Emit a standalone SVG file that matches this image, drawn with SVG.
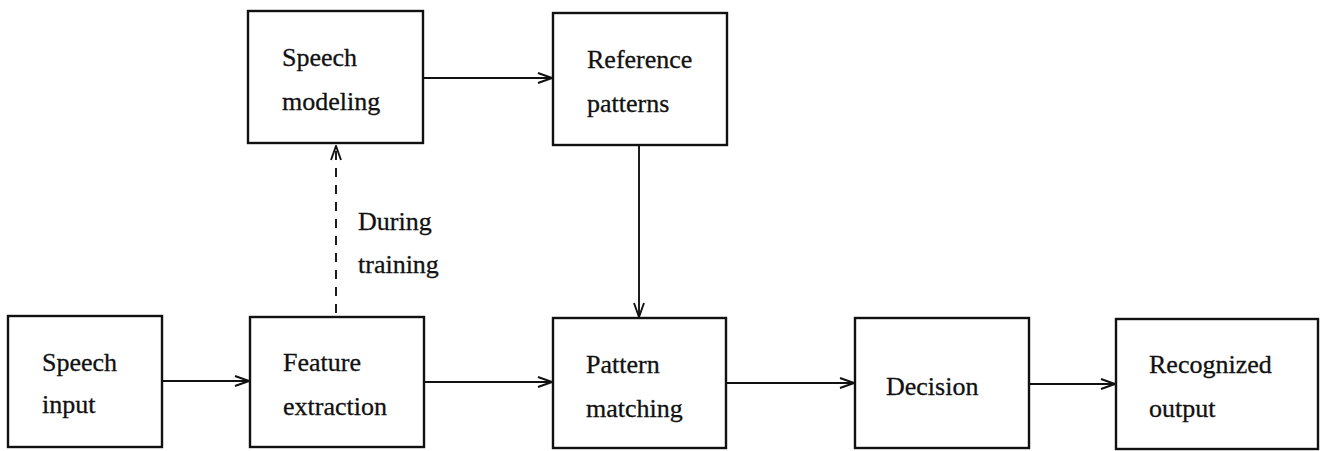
<svg xmlns="http://www.w3.org/2000/svg" width="1324" height="451" viewBox="0 0 1324 451">
<style>
.box{fill:#fff;stroke:#111;stroke-width:2.4}
.t{font-family:"Liberation Serif",serif;font-size:26px;fill:#111;stroke:#111;stroke-width:0.3}
.c{fill:none;stroke:#111;stroke-width:1.9}
.d{stroke-dasharray:9 8}
</style>
<defs>
<marker id="a" markerWidth="16" markerHeight="12" refX="15" refY="6" orient="auto" markerUnits="userSpaceOnUse">
<path d="M1,1 L15,6 L1,11" fill="none" stroke="#111" stroke-width="1.9"/>
</marker>
</defs>
<rect width="1324" height="451" fill="#fff"/>
<g id="connectors">
<line class="c" x1="423" y1="78" x2="552" y2="78" marker-end="url(#a)"/>
<line class="c d" x1="336" y1="313" x2="336" y2="146" marker-end="url(#a)"/>
<line class="c" x1="639" y1="145" x2="639" y2="317" marker-end="url(#a)"/>
<line class="c" x1="162" y1="381" x2="249" y2="381" marker-end="url(#a)"/>
<line class="c" x1="424" y1="382" x2="552" y2="382" marker-end="url(#a)"/>
<line class="c" x1="726" y1="383" x2="854" y2="383" marker-end="url(#a)"/>
<line class="c" x1="1029" y1="384" x2="1115" y2="384" marker-end="url(#a)"/>
<text class="t" x="358" y="230">During</text>
<text class="t" x="358" y="273">training</text>
</g>
<g id="speech-modeling">
<rect class="box" x="248" y="11" width="175" height="132"/>
<text class="t" x="282" y="66">Speech</text>
<text class="t" x="282" y="110">modeling</text>
</g>
<g id="reference-patterns">
<rect class="box" x="553" y="13" width="174" height="132"/>
<text class="t" x="587" y="68">Reference</text>
<text class="t" x="587" y="112">patterns</text>
</g>
<g id="speech-input">
<rect class="box" x="8" y="316" width="154" height="131"/>
<text class="t" x="42" y="371">Speech</text>
<text class="t" x="42" y="413">input</text>
</g>
<g id="feature-extraction">
<rect class="box" x="250" y="317" width="174" height="130"/>
<text class="t" x="283" y="371">Feature</text>
<text class="t" x="283" y="415">extraction</text>
</g>
<g id="pattern-matching">
<rect class="box" x="553" y="318" width="173" height="130"/>
<text class="t" x="586" y="373">Pattern</text>
<text class="t" x="586" y="417">matching</text>
</g>
<g id="decision">
<rect class="box" x="855" y="318" width="174" height="130"/>
<text class="t" x="886" y="395">Decision</text>
</g>
<g id="recognized-output">
<rect class="box" x="1116" y="319" width="202" height="130"/>
<text class="t" x="1149" y="373">Recognized</text>
<text class="t" x="1149" y="417">output</text>
</g>
</svg>
